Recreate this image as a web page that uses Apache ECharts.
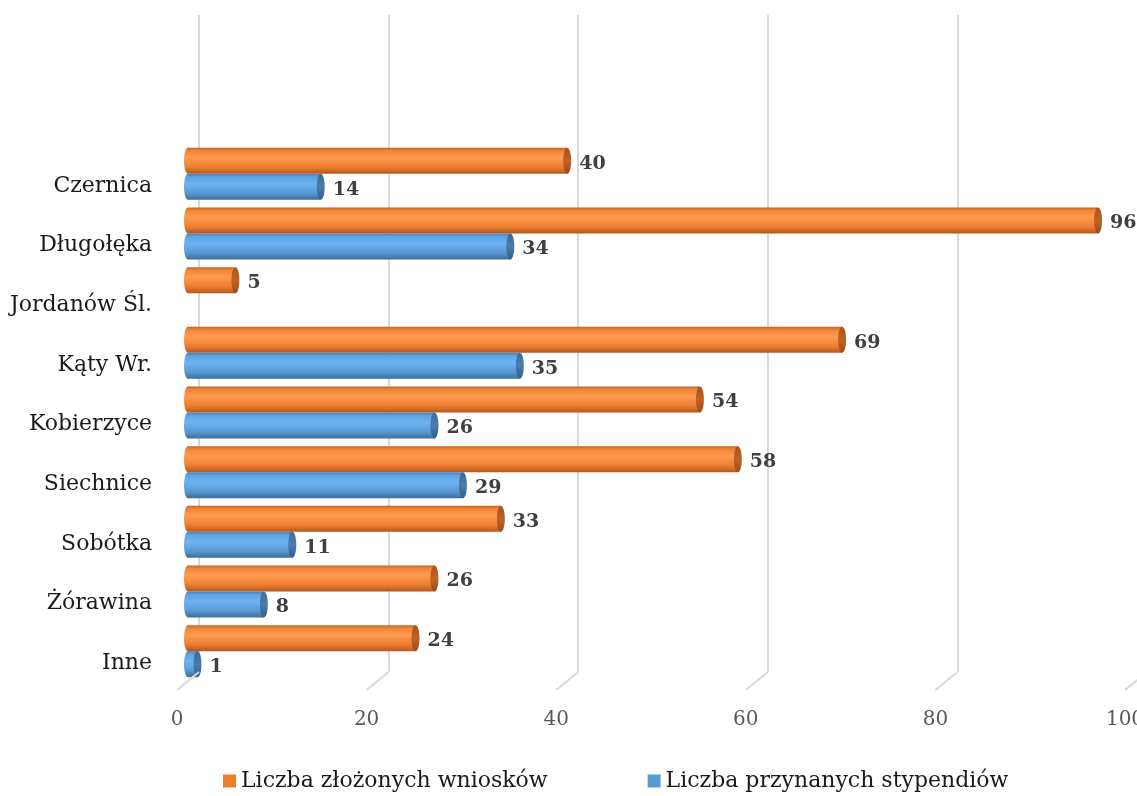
<!DOCTYPE html>
<html>
<head>
<meta charset="utf-8">
<script src="https://cdn.jsdelivr.net/npm/echarts@6/dist/echarts.min.js"></script>
<style>
  html, body { margin: 0; padding: 0; background: #fff; }
  #chart { width: 1137px; height: 796px; }
</style>
</head>
<body>
<div id="chart"></div>
<script>
// dane z wykresu
var categories = ['Czernica', 'Długołęka', 'Jordanów Śl.', 'Kąty Wr.', 'Kobierzyce', 'Siechnice', 'Sobótka', 'Żórawina', 'Inne'];
var wnioski = [40, 96, 5, 69, 54, 58, 33, 26, 24];
var stypendia = [14, 34, null, 35, 26, 29, 11, 8, 1];
var ticks = [0, 20, 40, 60, 80, 100];

var FONT = 'DejaVu Serif';

var chart = echarts.init(document.getElementById('chart'));

// walec: prostokat + elipsy na koncach
function cylinder(offset, stops, capStops) {
  return function (params, api) {
    var v = api.value(0);
    if (v == null || isNaN(v)) return;
    var cat = api.value(1);
    var start = api.coord([0, cat]);
    var end = api.coord([v, cat]);
    var h = 26;
    var rx = 4;
    var cy = start[1] + offset;
    var grad = new echarts.graphic.LinearGradient(0, 0, 0, 1, stops);
    var capGrad = new echarts.graphic.LinearGradient(0, 0, 0, 1, capStops);
    return {
      type: 'group',
      children: [
        {
          type: 'ellipse',
          shape: { cx: start[0], cy: cy, rx: rx, ry: h / 2 },
          style: { fill: grad }
        },
        {
          type: 'rect',
          shape: { x: start[0], y: cy - h / 2, width: end[0] - start[0], height: h },
          style: { fill: grad }
        },
        {
          type: 'ellipse',
          shape: { cx: end[0], cy: cy, rx: rx, ry: h / 2 },
          style: { fill: capGrad }
        },
        {
          type: 'text',
          x: end[0] + rx + 8,
          y: cy + 3,
          style: {
            text: String(v),
            font: 'bold 19px "' + FONT + '"',
            fill: '#404040',
            verticalAlign: 'middle'
          }
        }
      ]
    };
  };
}

var orangeStops = [
  { offset: 0, color: '#C8621F' },
  { offset: 0.12, color: '#EF873B' },
  { offset: 0.38, color: '#FF9B4E' },
  { offset: 0.75, color: '#EC7D30' },
  { offset: 1, color: '#B5571B' }
];
var orangeCap = [
  { offset: 0, color: '#A9521B' },
  { offset: 0.5, color: '#BF6426' },
  { offset: 1, color: '#9C4A17' }
];
var blueStops = [
  { offset: 0, color: '#4A80B4' },
  { offset: 0.12, color: '#5FA3E0' },
  { offset: 0.38, color: '#6DB4F2' },
  { offset: 0.75, color: '#5898D2' },
  { offset: 1, color: '#3D6C99' }
];
var blueCap = [
  { offset: 0, color: '#3C6A96' },
  { offset: 0.5, color: '#4A7DAD' },
  { offset: 1, color: '#345E86' }
];

chart.setOption({
  animation: false,
  backgroundColor: '#fff',
  grid: [
    // walce
    { left: 188, right: 1, top: 144, height: 537, outerBoundsMode: 'none' },
    // tylna sciana z liniami siatki
    { left: 199, width: 948, top: 15, height: 657, outerBoundsMode: 'none' },
    // podloga z opisami osi
    { left: 177, width: 948, top: 15, height: 675, outerBoundsMode: 'none' },
    // opisy kategorii (przesuniete w dol jak w perspektywie)
    { left: 188, right: 1, top: 156, height: 537, outerBoundsMode: 'none' }
  ],
  legend: {
    data: ['Liczba złożonych wniosków', 'Liczba przynanych stypendiów'],
    left: 218,
    top: 765,
    icon: 'rect',
    itemWidth: 13,
    itemHeight: 13,
    itemGap: 100,
    textStyle: { fontFamily: FONT, fontSize: 22, color: '#1a1a1a' }
  },
  xAxis: [
    {
      gridIndex: 0, type: 'value', min: 0, max: 100, interval: 20,
      axisLine: { show: false }, axisTick: { show: false },
      axisLabel: { show: false }, splitLine: { show: false }
    },
    {
      gridIndex: 1, type: 'value', min: 0, max: 100, interval: 20,
      axisLine: { show: false }, axisTick: { show: false },
      axisLabel: { show: false },
      splitLine: { show: true, lineStyle: { color: '#D9D9D9', width: 2 } }
    },
    {
      gridIndex: 2, type: 'value', min: 0, max: 100, interval: 20,
      axisLine: { show: false }, axisTick: { show: false },
      splitLine: { show: false },
      axisLabel: { margin: 20, fontFamily: FONT, fontSize: 20, color: '#595959' }
    },
    {
      gridIndex: 3, type: 'value', min: 0, max: 100, show: false
    }
  ],
  yAxis: [
    {
      gridIndex: 0, type: 'category', inverse: true, data: categories,
      axisLine: { show: false }, axisTick: { show: false },
      axisLabel: { show: false }
    },
    { gridIndex: 1, type: 'value', min: 0, max: 1, show: false },
    { gridIndex: 2, type: 'value', min: 0, max: 1, show: false },
    {
      gridIndex: 3, type: 'category', inverse: true, data: categories,
      axisLine: { show: false }, axisTick: { show: false },
      axisLabel: { margin: 36, fontFamily: FONT, fontSize: 22, color: '#1a1a1a' }
    }
  ],
  series: [
    {
      name: 'Liczba złożonych wniosków',
      type: 'custom',
      xAxisIndex: 0, yAxisIndex: 0,
      itemStyle: { color: '#ED7D31' },
      encode: { x: 0, y: 1 },
      data: wnioski.map(function (v, i) { return [v, i]; }),
      renderItem: cylinder(-13, orangeStops, orangeCap)
    },
    {
      name: 'Liczba przynanych stypendiów',
      type: 'custom',
      xAxisIndex: 0, yAxisIndex: 0,
      itemStyle: { color: '#5B9BD5' },
      encode: { x: 0, y: 1 },
      data: stypendia.map(function (v, i) { return [v == null ? '-' : v, i]; }),
      renderItem: cylinder(13, blueStops, blueCap)
    },
    {
      // ukosne linie podlogi
      type: 'custom',
      xAxisIndex: 1, yAxisIndex: 1,
      silent: true,
      encode: { x: 0 },
      data: ticks.map(function (t) { return [t]; }),
      renderItem: function (params, api) {
        var p = api.coord([api.value(0), 0]);
        return {
          type: 'line',
          shape: { x1: p[0], y1: p[1], x2: p[0] - 22, y2: p[1] + 18 },
          style: { stroke: '#D9D9D9', lineWidth: 2 }
        };
      }
    }
  ]
});
</script>
</body>
</html>
